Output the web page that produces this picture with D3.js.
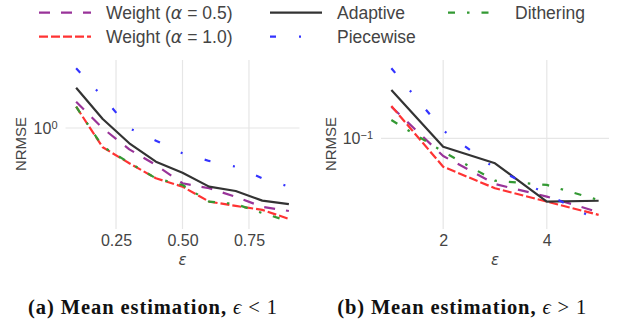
<!DOCTYPE html>
<html>
<head>
<meta charset="utf-8">
<script src="https://cdn.jsdelivr.net/npm/d3@7"></script>
<style>
  body { margin: 0; background: #fff; }
  svg { display: block; font-family: "Liberation Sans", Arial, sans-serif; }
</style>
</head>
<body>
<svg id="chart" width="618" height="322"></svg>
<script>
// ---- data ----
const epsSmall = [0.1, 0.2, 0.3, 0.4, 0.5, 0.6, 0.7, 0.8, 0.9];
const epsLarge = [1, 2, 3, 4, 5];

const weight05Small  = [1.428, 0.996, 0.749, 0.606, 0.473, 0.442, 0.394, 0.344, 0.325];
const weight10Small  = [1.334, 0.770, 0.620, 0.506, 0.452, 0.369, 0.348, 0.330, 0.292];
const adaptiveSmall  = [1.726, 1.130, 0.813, 0.634, 0.546, 0.452, 0.426, 0.374, 0.357];
const piecewiseSmall = [2.244, 1.528, 0.996, 0.842, 0.710, 0.640, 0.592, 0.506, 0.452];
const ditheringSmall = [1.334, 0.776, 0.625, 0.506, 0.462, 0.369, 0.357, 0.316, 0.283];

const weight05Large  = [0.1575, 0.0775, 0.0518, 0.0432, 0.0345];
const weight10Large  = [0.159, 0.0664, 0.0487, 0.0402, 0.0332];
const adaptiveLarge  = [0.2004, 0.0886, 0.0698, 0.0402, 0.0407];
const piecewiseLarge = [0.274, 0.112, 0.0649, 0.0449, 0.0305];
const ditheringLarge = [0.130, 0.0824, 0.0543, 0.0511, 0.0411];

const xTicksSmall = [0.25, 0.5, 0.75];
const xTicksLarge = [2, 4];
const yTicksSmall = [1];
const yTicksLarge = [0.1];

const seriesNames = ["Weight (α = 0.5)", "Weight (α = 1.0)", "Adaptive", "Piecewise", "Dithering"];
const captions = ["(a) Mean estimation, ", "(b) Mean estimation, "];
const captionMath = ["ϵ < 1", "ϵ > 1"];

// ---- styles ----
const styles = [
  {color: "#993399", dash: "11,11"},
  {color: "#ff3333", dash: "9,3"},
  {color: "#333333", dash: null},
  {color: "#3333ff", dash: "6,23,2,23"},
  {color: "#339933", dash: "7,12,2.5,12"}
];
const TEXT = "#444";
const GRID = "#e6e6e6";

const svg = d3.select("#chart");

function drawPanel(opts) {
  const x = d3.scaleLinear().domain(opts.xDomain).range([opts.left, opts.right]);
  const y = d3.scaleLog().domain(opts.yDomain).range([opts.bottom, opts.top]);
  const g = svg.append("g");

  // grid
  g.selectAll(".vgrid").data(opts.xTicks).enter().append("line")
    .attr("x1", d => x(d)).attr("x2", d => x(d))
    .attr("y1", opts.top).attr("y2", opts.bottom)
    .attr("stroke", GRID).attr("stroke-width", 1.2);
  g.selectAll(".hgrid").data(opts.yTicks).enter().append("line")
    .attr("x1", opts.left).attr("x2", opts.right)
    .attr("y1", d => y(d)).attr("y2", d => y(d))
    .attr("stroke", GRID).attr("stroke-width", 1.2);

  // x axis
  const xa = g.append("g").attr("transform", `translate(0,${opts.bottom})`)
    .call(d3.axisBottom(x).tickValues(opts.xTicks).tickSize(0).tickPadding(5.5)
      .tickFormat(opts.xFormat));
  xa.select(".domain").remove();
  xa.selectAll("text").attr("fill", TEXT).attr("font-size", 16)
    .attr("font-family", "Liberation Sans, Arial, sans-serif");

  // y axis (10^k labels)
  const ya = g.append("g").attr("transform", `translate(${opts.left},0)`)
    .call(d3.axisLeft(y).tickValues(opts.yTicks).tickSize(0).tickPadding(8).tickFormat(() => ""));
  ya.select(".domain").remove();
  ya.selectAll("text").attr("fill", TEXT).attr("font-size", 16)
    .attr("font-family", "Liberation Sans, Arial, sans-serif")
    .each(function(d) {
      const t = d3.select(this);
      t.text("10");
      t.append("tspan").attr("dy", "-0.45em").attr("font-size", 11)
        .text(String(Math.round(Math.log10(d))).replace("-", "−"));
    });

  // axis labels
  g.append("text").attr("x", (opts.left + opts.right) / 2).attr("y", 265)
    .attr("text-anchor", "middle").attr("fill", TEXT)
    .attr("font-family", "DejaVu Sans, sans-serif").attr("font-style", "italic")
    .attr("font-size", 15).text("ε");
  g.append("text")
    .attr("transform", `translate(${opts.yLabelX},${(opts.top + opts.bottom) / 2 - 0.5}) rotate(-90)`)
    .attr("text-anchor", "middle").attr("dy", "0.35em").attr("fill", TEXT)
    .attr("font-size", 15).text("NRMSE");

  // lines
  const line = d3.line().x(d => x(d[0])).y(d => y(d[1]));
  opts.series.forEach((vals, i) => {
    g.append("path")
      .datum(opts.xs.map((e, k) => [e, vals[k]]))
      .attr("d", line)
      .attr("fill", "none")
      .attr("stroke", styles[i].color)
      .attr("stroke-width", 2.2)
      .attr("stroke-dasharray", styles[i].dash)
      .attr("stroke-linejoin", "round");
  });

  // caption
  const cap = svg.append("text").attr("x", opts.capX - 124.5).attr("y", 314)
    .attr("fill", "#111")
    .attr("font-family", "Liberation Serif, Times New Roman, serif")
    .attr("font-size", 20.5)
    .attr("textLength", 249).attr("lengthAdjust", "spacing");
  cap.append("tspan").attr("font-weight", "bold").text(opts.caption);
  cap.append("tspan").attr("font-style", "italic").text(opts.captionMath.slice(0, 1));
  cap.append("tspan").text(" " + opts.captionMath.slice(1));
}

drawPanel({
  xs: epsSmall,
  series: [weight05Small, weight10Small, adaptiveSmall, piecewiseSmall, ditheringSmall],
  xDomain: [0.06, 0.94], yDomain: [0.2546, 2.512],
  left: 65.5, right: 299.5, top: 60, bottom: 229,
  xTicks: xTicksSmall, yTicks: yTicksSmall, xFormat: d3.format(".2f"),
  yLabelX: 20.5, capX: 152.5, caption: captions[0], captionMath: captionMath[0]
});

drawPanel({
  xs: epsLarge,
  series: [weight05Large, weight10Large, adaptiveLarge, piecewiseLarge, ditheringLarge],
  xDomain: [0.8, 5.2], yDomain: [0.0271, 0.3085],
  left: 381, right: 609, top: 60, bottom: 229,
  xTicks: xTicksLarge, yTicks: yTicksLarge, xFormat: d3.format("d"),
  yLabelX: 330.5, capX: 461.7, caption: captions[1], captionMath: captionMath[1]
});

// legend: 3 columns filled column-wise
const legendCols = [39, 270, 448];
const legendRows = [12.7, 36.7];
const lg = svg.append("g");
seriesNames.forEach((name, i) => {
  const cx = legendCols[Math.floor(i / 2)];
  const cy = legendRows[i % 2];
  lg.append("line")
    .attr("x1", cx).attr("x2", cx + 52).attr("y1", cy).attr("y2", cy)
    .attr("stroke", styles[i].color).attr("stroke-width", 2.2)
    .attr("stroke-dasharray", styles[i].dash);
  const t = lg.append("text").attr("x", cx + 67).attr("y", cy).attr("dy", "0.36em")
    .attr("fill", TEXT).attr("font-size", 17.5);
  const m = name.match(/^(.*\()α(.*)$/);
  if (m) {
    t.append("tspan").text(m[1]);
    t.append("tspan").attr("font-family", "DejaVu Sans, sans-serif").attr("font-style", "italic").text("α");
    t.append("tspan").text(m[2]);
  } else {
    t.text(name);
  }
});
</script>
</body>
</html>
